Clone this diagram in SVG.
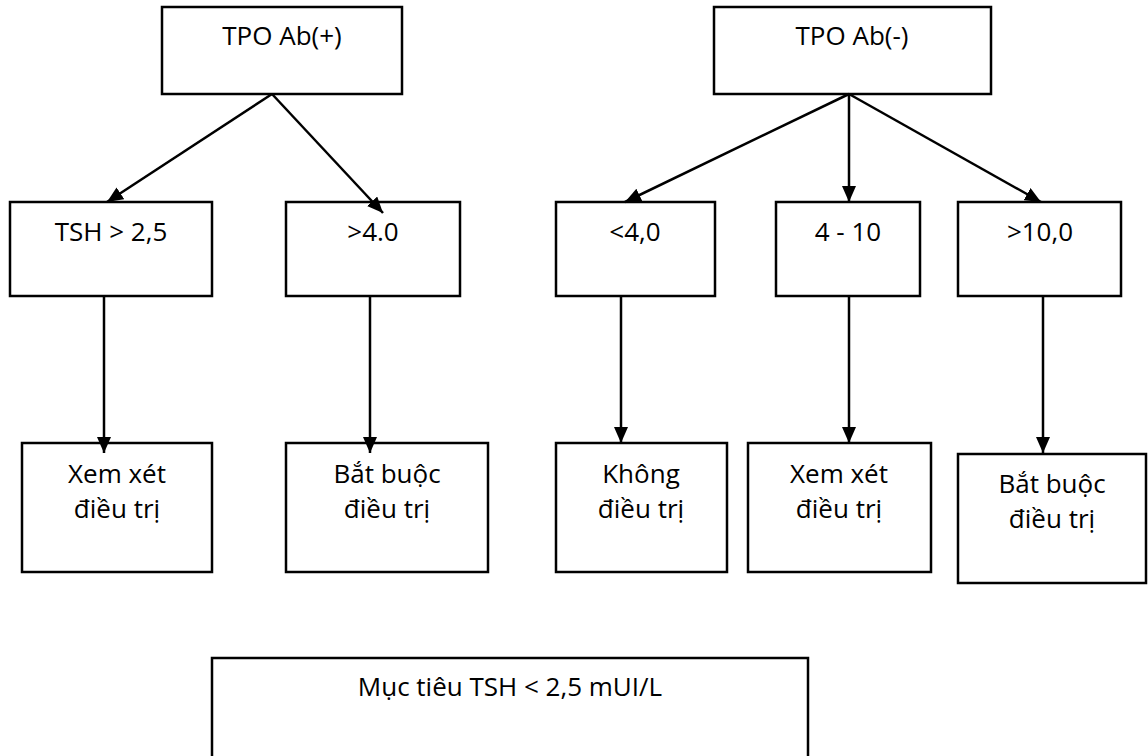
<svg xmlns="http://www.w3.org/2000/svg" width="1148" height="756" viewBox="0 0 1148 756">
<style>
.box{fill:#fff;stroke:#000;stroke-width:2.5}
.t{font-family:"Open Sans","Noto Sans","Liberation Sans",sans-serif;font-size:26px;fill:#000;text-anchor:middle}
.c{stroke:#000;stroke-width:2.5;fill:none;marker-end:url(#ah)}
</style>
<defs>
<marker id="ah" markerUnits="userSpaceOnUse" markerWidth="17" markerHeight="14" refX="16" refY="7" orient="auto">
<path d="M0,0 L16,7 L0,14 z" fill="#000"/>
</marker>
</defs>
<rect width="1148" height="756" fill="#fff"/>
<g id="tpo-pos"><rect class="box" x="162" y="7" width="240" height="87"/><text class="t" x="282" y="45">TPO Ab(+)</text></g>
<g id="tpo-neg"><rect class="box" x="714" y="7" width="277" height="87"/><text class="t" x="852" y="45">TPO Ab(-)</text></g>
<g id="tsh-25"><rect class="box" x="10" y="202" width="202" height="94"/><text class="t" x="111" y="241">TSH &gt; 2,5</text></g>
<g id="gt-4"><rect class="box" x="286" y="202" width="174" height="94"/><text class="t" x="373" y="241">&gt;4.0</text></g>
<g id="lt-4"><rect class="box" x="556" y="202" width="159" height="94"/><text class="t" x="635" y="241">&lt;4,0</text></g>
<g id="r4-10"><rect class="box" x="776" y="202" width="144" height="94"/><text class="t" x="848" y="241">4 - 10</text></g>
<g id="gt-10"><rect class="box" x="958" y="202" width="163" height="94"/><text class="t" x="1040" y="241">&gt;10,0</text></g>
<g id="consider-1"><rect class="box" x="22" y="443" width="190" height="129"/><text class="t" x="117" y="483">Xem xét</text><text class="t" x="117" y="518">điều trị</text></g>
<g id="must-1"><rect class="box" x="286" y="443" width="202" height="129"/><text class="t" x="387" y="483">Bắt buộc</text><text class="t" x="387" y="518">điều trị</text></g>
<g id="no-treat"><rect class="box" x="556" y="443" width="171" height="129"/><text class="t" x="641" y="483">Không</text><text class="t" x="641" y="518">điều trị</text></g>
<g id="consider-2"><rect class="box" x="748" y="443" width="183" height="129"/><text class="t" x="839" y="483">Xem xét</text><text class="t" x="839" y="518">điều trị</text></g>
<g id="must-2"><rect class="box" x="958" y="454" width="188" height="129"/><text class="t" x="1052" y="493">Bắt buộc</text><text class="t" x="1052" y="528">điều trị</text></g>
<g id="target"><rect class="box" x="212" y="658" width="596" height="120"/><text class="t" x="510" y="696">Mục tiêu TSH &lt; 2,5 mUI/L</text></g>
<g id="connectors">
<line class="c" x1="272" y1="94" x2="107" y2="202"/>
<line class="c" x1="272" y1="94" x2="383" y2="213"/>
<line class="c" x1="849" y1="94" x2="625" y2="202"/>
<line class="c" x1="849" y1="94" x2="849" y2="202"/>
<line class="c" x1="849" y1="94" x2="1041" y2="202"/>
<line class="c" x1="104" y1="296" x2="104" y2="453"/>
<line class="c" x1="370" y1="296" x2="370" y2="453"/>
<line class="c" x1="621" y1="296" x2="621" y2="443"/>
<line class="c" x1="849" y1="296" x2="849" y2="443"/>
<line class="c" x1="1043" y1="296" x2="1043" y2="453"/>
</g>
</svg>
